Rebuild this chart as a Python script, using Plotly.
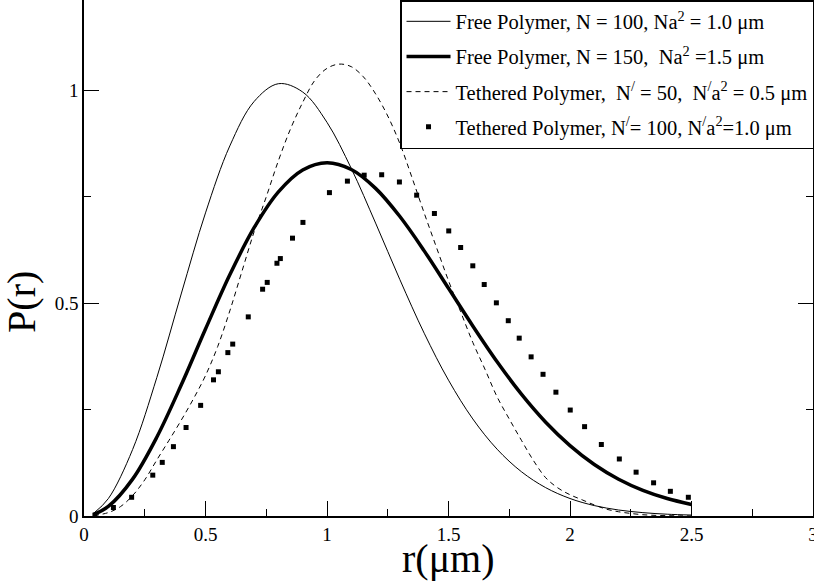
import plotly.graph_objects as go

# ---------------- data ----------------
r_free = [0.04, 0.1, 0.2, 0.3, 0.4, 0.5, 0.6, 0.7, 0.8, 0.9, 1.0, 1.1, 1.2, 1.3,
          1.4, 1.5, 1.6, 1.7, 1.8, 1.9, 2.0, 2.1, 2.2, 2.3, 2.4, 2.5]
p_free_n100 = [0.0066, 0.0408, 0.1562, 0.3260, 0.5218, 0.7124, 0.8697, 0.9741,
               1.0160, 0.9964, 0.9251, 0.8167, 0.6884, 0.5554, 0.4296, 0.3192,
               0.2281, 0.1570, 0.1041, 0.0666, 0.0411, 0.0245, 0.0141, 0.0079,
               0.0042, 0.0022]
p_free_n150 = [0.0036, 0.0224, 0.0867, 0.1857, 0.3077, 0.4394, 0.5669, 0.6775,
               0.7617, 0.8133, 0.8303, 0.8144, 0.7700, 0.7038, 0.6231, 0.5352,
               0.4467, 0.3625, 0.2864, 0.2204, 0.1654, 0.1210, 0.0864, 0.0602,
               0.0410, 0.0272]

r_teth50 = [0.04, 0.1, 0.15, 0.2, 0.25, 0.3, 0.35, 0.4, 0.45, 0.5, 0.55, 0.6,
            0.65, 0.7, 0.75, 0.8, 0.85, 0.9, 0.95, 1.0, 1.05, 1.1, 1.15, 1.2,
            1.25, 1.3, 1.35, 1.4, 1.45, 1.5, 1.55, 1.6, 1.65, 1.7, 1.75, 1.8,
            1.85, 1.9, 1.95, 2.0, 2.05, 2.1, 2.15, 2.2, 2.25, 2.3, 2.35, 2.4,
            2.45, 2.5]
p_teth50 = [0.001, 0.008, 0.022, 0.048, 0.085, 0.132, 0.178, 0.225, 0.275, 0.33,
            0.398, 0.482, 0.575, 0.668, 0.75, 0.835, 0.91, 0.972, 1.024, 1.052,
            1.062, 1.056, 1.032, 0.992, 0.94, 0.875, 0.795, 0.712, 0.632, 0.553,
            0.48, 0.408, 0.345, 0.28, 0.228, 0.178, 0.13, 0.09, 0.066, 0.05,
            0.038, 0.026, 0.016, 0.01, 0.006, 0.003, 0.0015, 0.0008, 0.0003,
            0.0001]

r_teth100 = [0.045, 0.121, 0.196, 0.283, 0.322, 0.368, 0.42, 0.48, 0.533, 0.553,
             0.592, 0.612, 0.676, 0.735, 0.754, 0.794, 0.808, 0.858, 0.901, 1.01,
             1.084, 1.153, 1.225, 1.298, 1.369, 1.442, 1.501, 1.55, 1.60, 1.647,
             1.697, 1.746, 1.791, 1.84, 1.889, 1.942, 2.001, 2.06, 2.129, 2.203,
             2.272, 2.344, 2.413, 2.487]
p_teth100 = [0.002, 0.020, 0.044, 0.096, 0.126, 0.163, 0.208, 0.260, 0.320, 0.339,
             0.384, 0.404, 0.468, 0.533, 0.549, 0.594, 0.605, 0.653, 0.690, 0.760,
             0.787, 0.801, 0.802, 0.785, 0.754, 0.711, 0.670, 0.631, 0.588, 0.544,
             0.501, 0.459, 0.418, 0.374, 0.333, 0.291, 0.249, 0.210, 0.168, 0.134,
             0.103, 0.078, 0.058, 0.044]

x_tick_vals = [0, 0.5, 1, 1.5, 2, 2.5, 3]
x_tick_text = ["0", "0.5", "1", "1.5", "2", "2.5", "3"]
y_tick_vals = [0, 0.5, 1]
y_tick_text = ["0", "0.5", "1"]

names = [
    "Free Polymer, N = 100, Na<sup>2</sup> = 1.0 \u03bcm",
    "Free Polymer, N = 150,\u00a0 Na<sup>2</sup> =1.5 \u03bcm",
    "Tethered Polymer,\u00a0 N<sup>/</sup> = 50,\u00a0 N<sup>/</sup>a<sup>2</sup> = 0.5 \u03bcm",
    "Tethered Polymer, N<sup>/</sup>= 100, N<sup>/</sup>a<sup>2</sup>=1.0 \u03bcm",
]

SERIF = "Liberation Serif"

fig = go.Figure()
fig.add_trace(go.Scatter(x=r_free, y=p_free_n100, mode="lines", name=names[0],
                         legendgroup="g1",
                         line=dict(color="black", width=1, shape="spline")))
fig.add_trace(go.Scatter(x=r_free, y=p_free_n150, mode="lines", name=names[1],
                         legendgroup="g2",
                         line=dict(color="black", width=3.5, shape="spline")))
fig.add_trace(go.Scatter(x=r_teth50, y=p_teth50, mode="lines", name=names[2],
                         legendgroup="g3",
                         line=dict(color="black", width=1, dash="5px,4px",
                                   shape="spline")))
fig.add_trace(go.Scatter(x=r_teth100, y=p_teth100, mode="markers", name=names[3],
                         legendgroup="g4",
                         marker=dict(symbol="square", size=5, color="black",
                                     line=dict(width=0))))

fig.update_layout(
    width=814, height=582,
    margin=dict(l=84, r=1, t=0, b=66, autoexpand=False),
    paper_bgcolor="white", plot_bgcolor="white",
    font=dict(family=SERIF, color="black", size=19),
    showlegend=True,
    legend=dict(x=0.4335, y=1.0, xanchor="left", yanchor="top",
                bgcolor="white", bordercolor="black", borderwidth=1.5,
                font=dict(family=SERIF, size=20.5, color="black"),
                tracegroupgap=5.5, itemwidth=44),
    xaxis=dict(range=[0, 3], tickmode="array", tickvals=x_tick_vals,
               ticktext=x_tick_text, ticks="inside", ticklen=15, tickwidth=1,
               tickcolor="black", showline=True, linecolor="black", linewidth=1.5,
               showgrid=False, zeroline=False, ticklabeloverflow="allow",
               minor=dict(dtick=0.25, tick0=0, ticks="inside", ticklen=7,
                          tickwidth=1, tickcolor="black", showgrid=False),
               tickfont=dict(family=SERIF, size=19)),
    yaxis=dict(range=[0, 1.2127], tickmode="array", tickvals=y_tick_vals,
               ticktext=y_tick_text, ticks="inside", ticklen=15, tickwidth=1,
               tickcolor="black", showline=True, linecolor="black", linewidth=1.5,
               mirror="ticks", showgrid=False, zeroline=False,
               minor=dict(dtick=0.25, tick0=0, ticks="inside", ticklen=7,
                          tickwidth=1, tickcolor="black", showgrid=False),
               tickfont=dict(family=SERIF, size=19)),
    annotations=[
        dict(text="P(r)", xref="paper", yref="paper", x=-0.085, y=0.415,
             xanchor="center", yanchor="middle", textangle=-90, showarrow=False,
             font=dict(family=SERIF, size=40, color="black")),
        dict(text="r(\u03bcm)", xref="paper", yref="paper", x=0.5, y=-0.083,
             xanchor="center", yanchor="middle", showarrow=False,
             font=dict(family=SERIF, size=40, color="black")),
    ],
)

fig.write_html(
    "out.html",
    config={"displayModeBar": False},
    post_script="document.body.style.margin='0';document.body.style.overflow='hidden';",
)
